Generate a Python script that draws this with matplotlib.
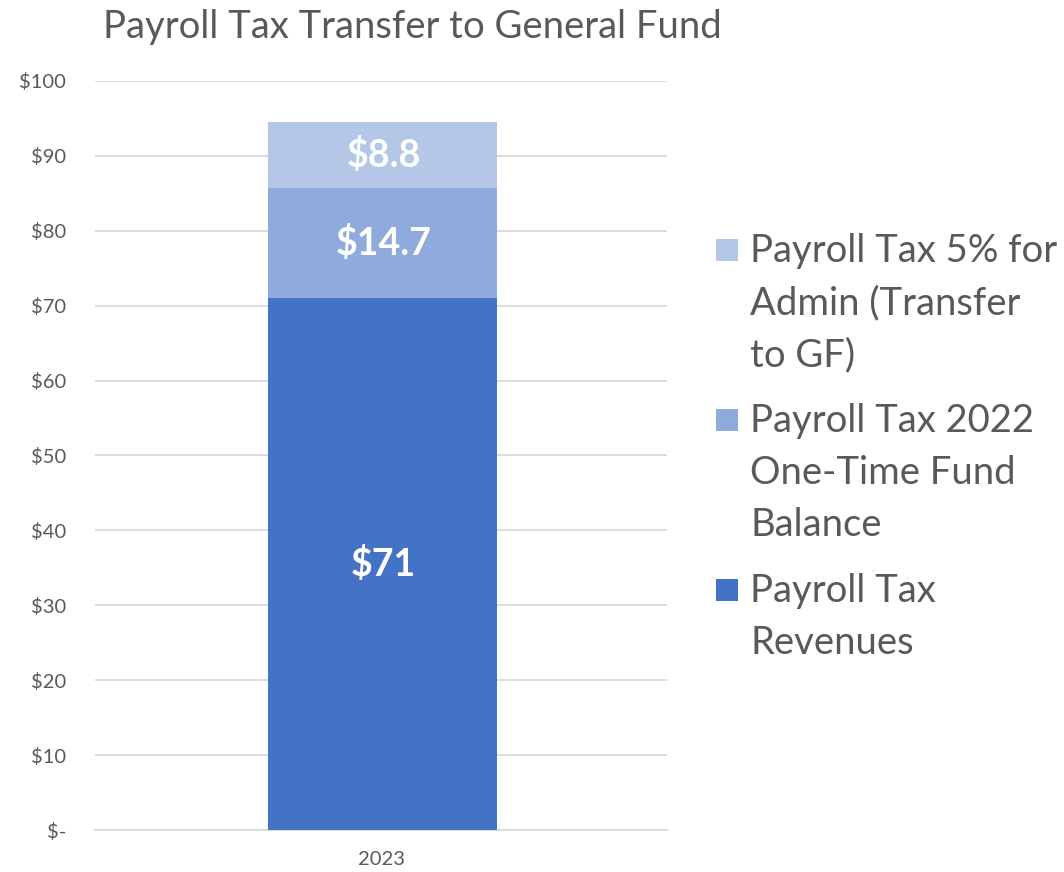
import matplotlib
matplotlib.use("Agg")
import matplotlib.pyplot as plt
from matplotlib.patches import Rectangle
from matplotlib.ticker import FuncFormatter, MultipleLocator

plt.rcParams['font.family'] = ['Lato', 'DejaVu Sans']

categories = ["2023"]
series_names = ["Payroll Tax Revenues", "Payroll Tax 2022 One-Time Fund Balance", "Payroll Tax 5% for Admin (Transfer to GF)"]
legend_labels = ["Payroll Tax\nRevenues", "Payroll Tax 2022\nOne-Time Fund\nBalance", "Payroll Tax 5% for\nAdmin (Transfer\nto GF)"]
values = [71.0, 14.7, 8.8]
value_labels = ["$71", "$14.7", "$8.8"]
colors = ["#4472C4", "#8FAADC", "#B4C7E7"]
title = "Payroll Tax Transfer to General Fund"

grey = "#595959"
W, H = 1064, 872
fig = plt.figure(figsize=(W / 100, H / 100), dpi=100)
ax = fig.add_axes([95 / W, 42 / H, 572 / W, 749 / H])

bottom = 0.0
for v, c, lab in zip(values, colors, value_labels):
    ax.bar(0.005, v, bottom=bottom, width=0.8, color=c, zorder=3)
    ax.text(0.01, bottom + v / 2, lab, ha="center", va="center", color="white",
            fontsize=27, fontweight="bold", zorder=4)
    bottom += v

ax.set_xlim(-1, 1)
ax.set_ylim(0, 100)
ax.set_xticks([0])
ax.set_xticklabels(categories)
ax.yaxis.set_major_locator(MultipleLocator(10))
ax.yaxis.set_major_formatter(FuncFormatter(lambda v, p: "$-" if v == 0 else f"${v:.0f}"))
ax.grid(axis="y", color="#D9D9D9", linewidth=1.3, zorder=0)
for s in ["top", "right", "left"]:
    ax.spines[s].set_visible(False)
ax.spines["bottom"].set_color("#D9D9D9")
ax.spines["bottom"].set_linewidth(1.3)
ax.tick_params(axis="y", length=0, pad=21, labelsize=14.5, labelcolor=grey)
ax.tick_params(axis="x", length=0, pad=15, labelsize=14.5, labelcolor=grey)

fig.text(103 / W, 1 - 27 / H, title, ha="left", va="center", fontsize=27.5, color=grey)

# legend (reverse order, top = lightest)
tops = [250, 420, 590]
for i, idx in enumerate([2, 1, 0]):
    y = tops[i]
    fig.patches.append(Rectangle((716 / W, 1 - (y + 11) / H), 22 / W, 22 / H,
                                 transform=fig.transFigure, facecolor=colors[idx],
                                 edgecolor="none"))
    fig.text(750 / W, 1 - (y - 17) / H, legend_labels[idx], ha="left", va="top",
             fontsize=27.5, color=grey, linespacing=1.55)

fig.savefig("out.png", dpi=100)
